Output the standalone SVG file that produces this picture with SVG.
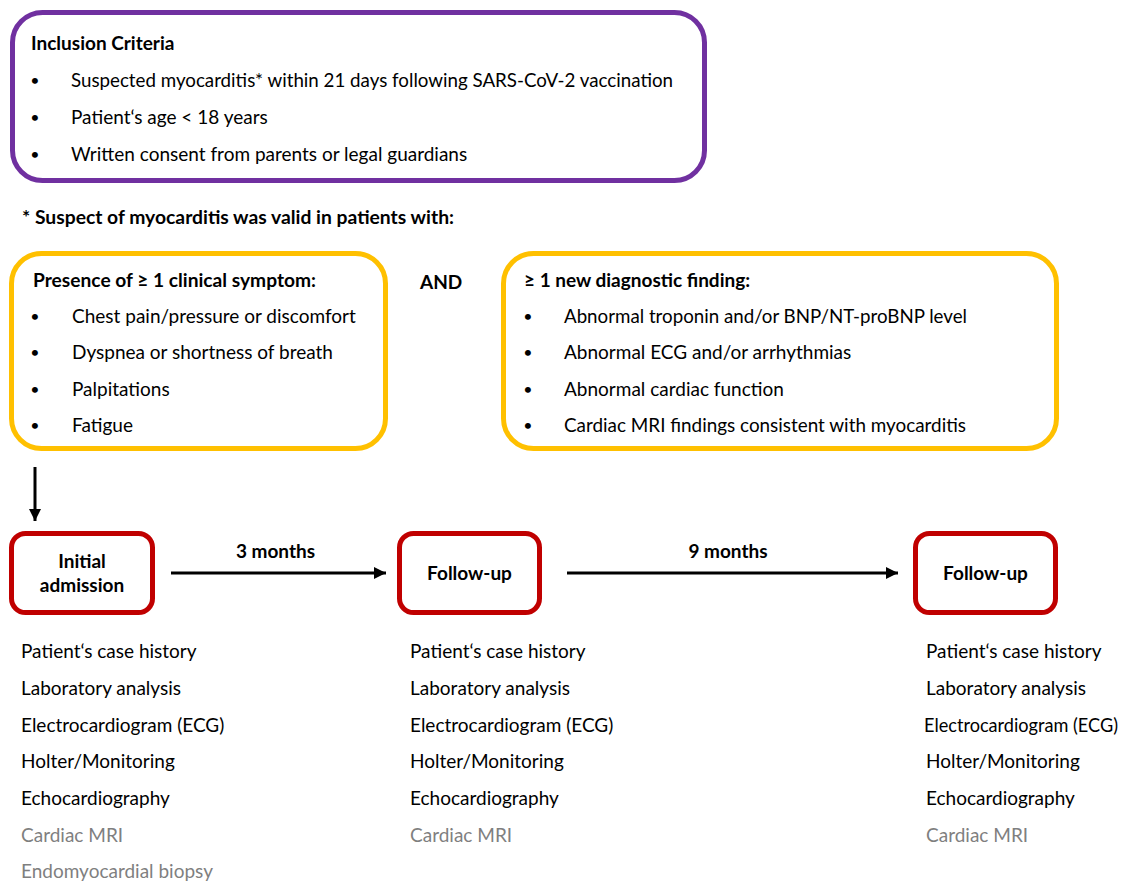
<svg xmlns="http://www.w3.org/2000/svg" width="1126" height="882" viewBox="0 0 1126 882">
<style>
text { font-family: Lato, "Liberation Sans", sans-serif; font-size: 19px; fill: #000; }
.b { font-weight: bold; }
.g { fill: #7f7f7f; }
.bul { font-size: 16px; text-anchor: middle; }
.purple { fill: none; stroke: #7030a0; stroke-width: 5; }
.yellow { fill: none; stroke: #ffc000; stroke-width: 5; }
.red { fill: none; stroke: #c00000; stroke-width: 5; }
.conn { stroke: #000; stroke-width: 3; fill: none; }
</style>
<defs>
<marker id="ah" viewBox="0 0 10 10" refX="10" refY="5" markerWidth="4" markerHeight="4" orient="auto" markerUnits="strokeWidth">
<path d="M0,0 L10,5 L0,10 z" fill="#000"/>
</marker>
</defs>
<rect width="1126" height="882" fill="#fff"/>

<g id="inclusion">
<rect class="purple" x="12.5" y="12.5" width="692" height="168" rx="30"/>
<text class="b" x="31" y="50">Inclusion Criteria</text>
<text class="bul" x="35" y="86">•</text><text x="71" y="87" textLength="602" lengthAdjust="spacingAndGlyphs">Suspected myocarditis* within 21 days following SARS-CoV-2 vaccination</text>
<text class="bul" x="35" y="123">•</text><text x="71" y="124">Patient‘s age &lt; 18 years</text>
<text class="bul" x="35" y="160">•</text><text x="71" y="161">Written consent from parents or legal guardians</text>
</g>

<g id="note">
<text class="b" x="22" y="224" textLength="432" lengthAdjust="spacingAndGlyphs">* Suspect of myocarditis was valid in patients with:</text>
</g>

<g id="symptoms">
<rect class="yellow" x="11.5" y="253.5" width="374" height="195" rx="30"/>
<text class="b" x="33" y="287" textLength="283" lengthAdjust="spacingAndGlyphs">Presence of ≥ 1 clinical symptom:</text>
<text class="bul" x="35" y="322">•</text><text x="72" y="323">Chest pain/pressure or discomfort</text>
<text class="bul" x="35" y="358">•</text><text x="72" y="359">Dyspnea or shortness of breath</text>
<text class="bul" x="35" y="395">•</text><text x="72" y="396">Palpitations</text>
<text class="bul" x="35" y="431">•</text><text x="72" y="432">Fatigue</text>
</g>

<g id="and">
<text class="b" x="420" y="289">AND</text>
</g>

<g id="findings">
<rect class="yellow" x="503.5" y="253.5" width="553" height="195" rx="30"/>
<text class="b" x="524" y="287">≥ 1 new diagnostic finding:</text>
<text class="bul" x="528" y="322">•</text><text x="564" y="323" textLength="403" lengthAdjust="spacingAndGlyphs">Abnormal troponin and/or BNP/NT-proBNP level</text>
<text class="bul" x="528" y="358">•</text><text x="564" y="359">Abnormal ECG and/or arrhythmias</text>
<text class="bul" x="528" y="395">•</text><text x="564" y="396">Abnormal cardiac function</text>
<text class="bul" x="528" y="431">•</text><text x="564" y="432" textLength="402" lengthAdjust="spacingAndGlyphs">Cardiac MRI findings consistent with myocarditis</text>
</g>

<g id="initial">
<rect class="red" x="11.5" y="533.5" width="141" height="79" rx="14"/>
<text class="b" x="82" y="568" text-anchor="middle">Initial</text>
<text class="b" x="82" y="592" text-anchor="middle">admission</text>
</g>

<g id="followup1">
<rect class="red" x="399.5" y="533.5" width="140" height="79" rx="14"/>
<text class="b" x="469.5" y="580" text-anchor="middle">Follow-up</text>
</g>

<g id="followup2">
<rect class="red" x="915.5" y="533.5" width="140" height="79" rx="14"/>
<text class="b" x="985.5" y="580" text-anchor="middle">Follow-up</text>
</g>

<g id="connectors">
<line class="conn" x1="35" y1="467" x2="35" y2="521" marker-end="url(#ah)"/>
<line class="conn" x1="171" y1="573" x2="386" y2="573" marker-end="url(#ah)"/>
<line class="conn" x1="567" y1="573" x2="898" y2="573" marker-end="url(#ah)"/>
<text class="b" x="275.5" y="558" text-anchor="middle">3 months</text>
<text class="b" x="728" y="558" text-anchor="middle">9 months</text>
</g>

<g id="list1">
<text x="21" y="658">Patient‘s case history</text>
<text x="21" y="695">Laboratory analysis</text>
<text x="21" y="732">Electrocardiogram (ECG)</text>
<text x="21" y="768">Holter/Monitoring</text>
<text x="21" y="805">Echocardiography</text>
<text class="g" x="21" y="842">Cardiac MRI</text>
<text class="g" x="21" y="878">Endomyocardial biopsy</text>
</g>

<g id="list2">
<text x="410" y="658">Patient‘s case history</text>
<text x="410" y="695">Laboratory analysis</text>
<text x="410" y="732">Electrocardiogram (ECG)</text>
<text x="410" y="768">Holter/Monitoring</text>
<text x="410" y="805">Echocardiography</text>
<text class="g" x="410" y="842">Cardiac MRI</text>
</g>

<g id="list3">
<text x="926" y="658">Patient‘s case history</text>
<text x="926" y="695">Laboratory analysis</text>
<text x="924" y="732" textLength="194" lengthAdjust="spacingAndGlyphs">Electrocardiogram (ECG)</text>
<text x="926" y="768">Holter/Monitoring</text>
<text x="926" y="805">Echocardiography</text>
<text class="g" x="926" y="842">Cardiac MRI</text>
</g>
</svg>
